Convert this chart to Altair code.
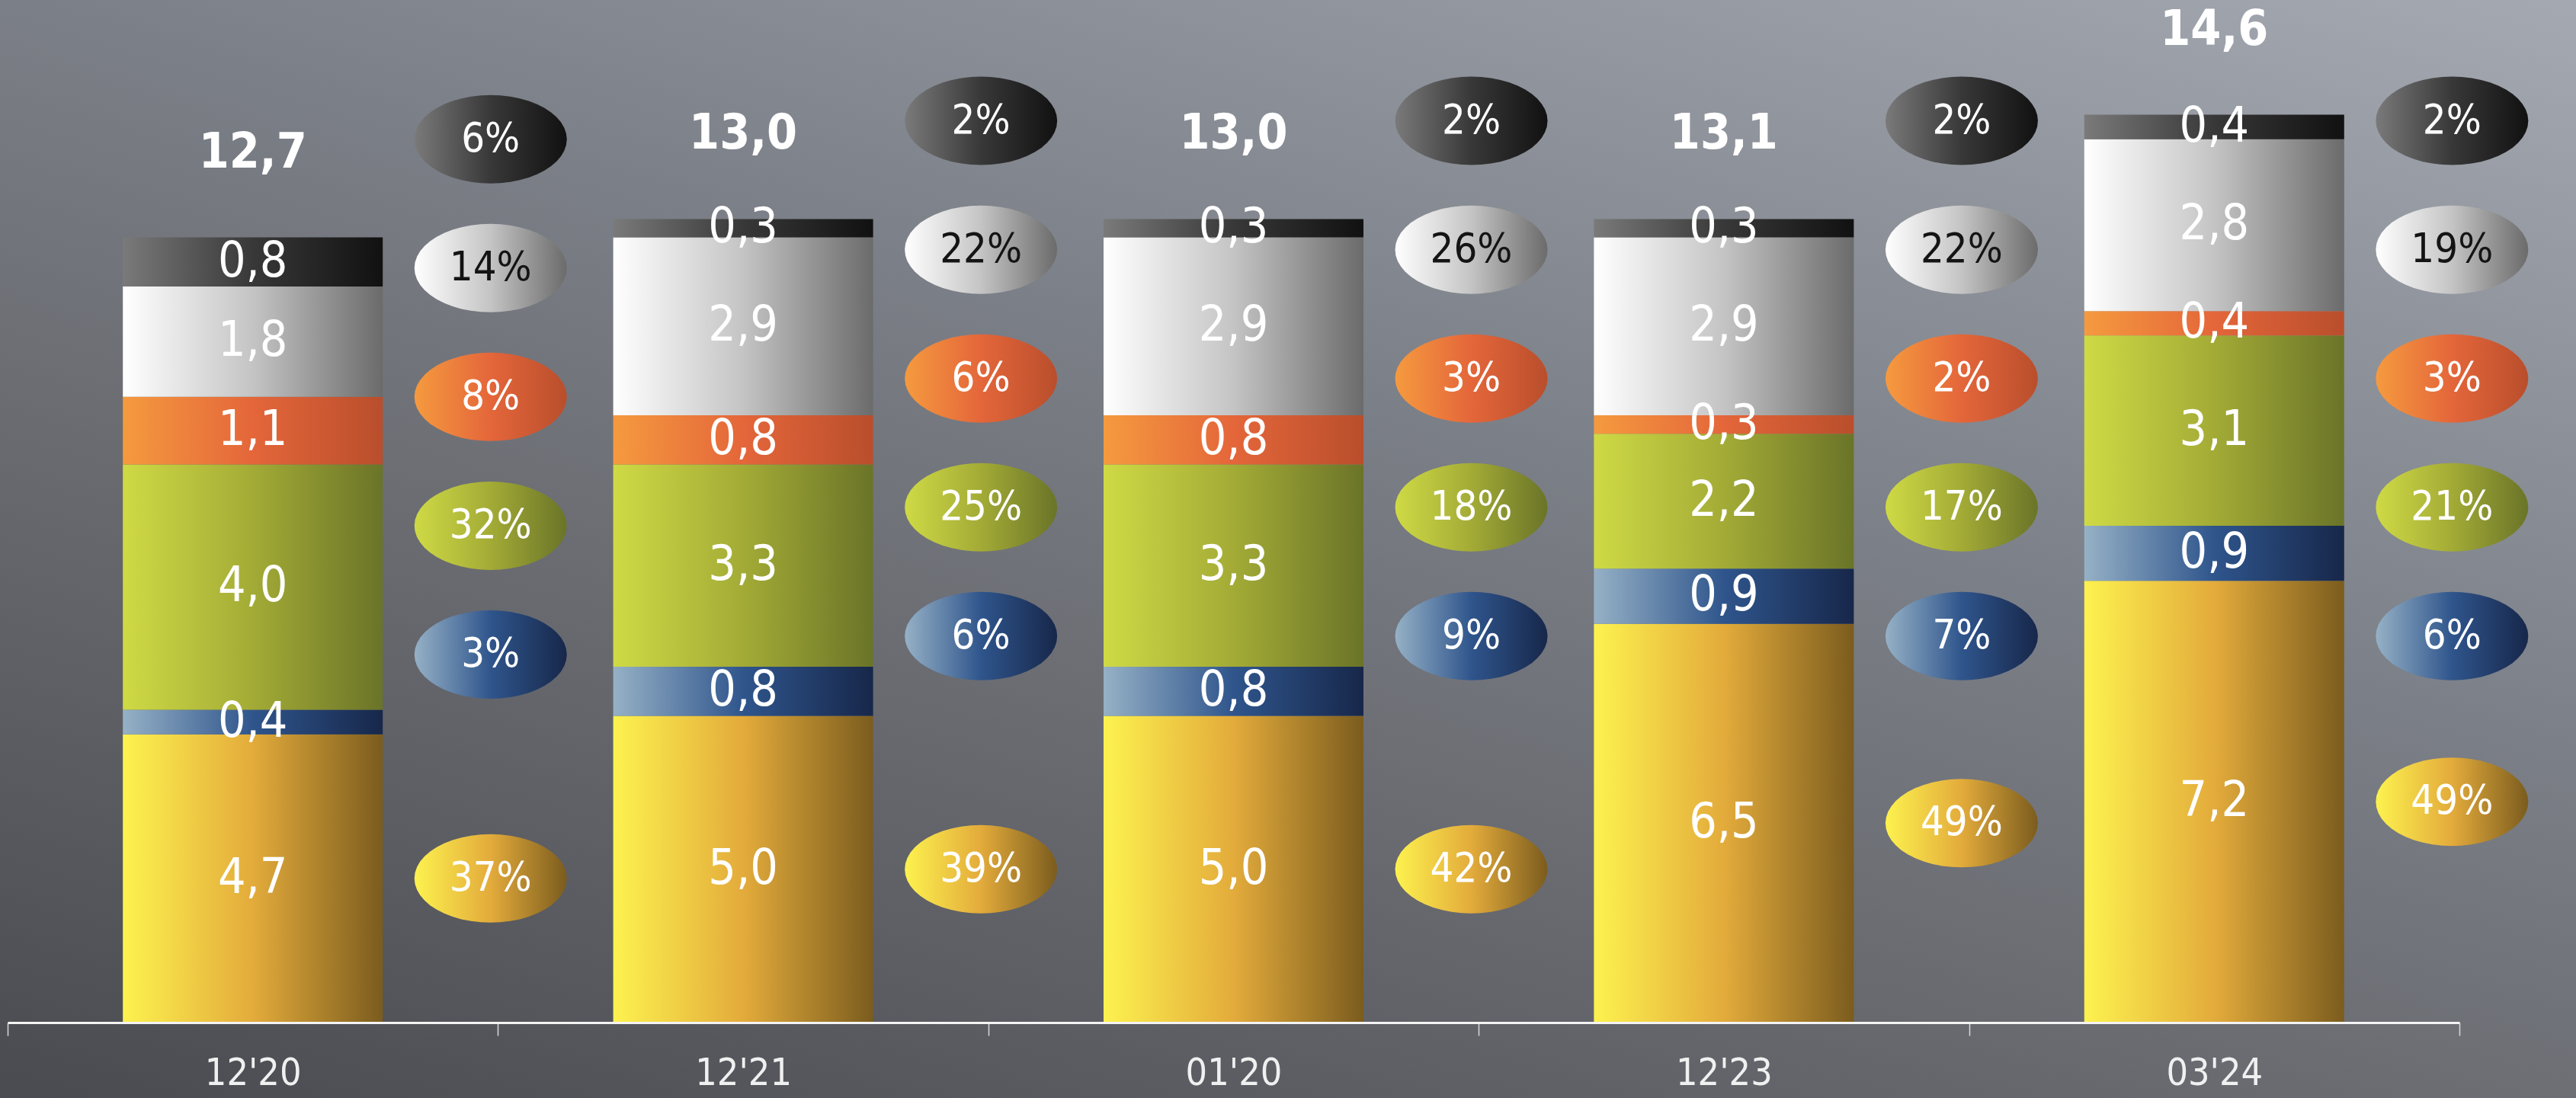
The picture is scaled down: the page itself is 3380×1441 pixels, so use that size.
import math
import altair as alt
import pandas as pd

# ---------------- data ----------------
categories = ["12'20", "12'21", "01'20", "12'23", "03'24"]

# segment values, bottom to top
seg_yellow = [4.7, 5.0, 5.0, 6.5, 7.2]
seg_blue = [0.4, 0.8, 0.8, 0.9, 0.9]
seg_green = [4.0, 3.3, 3.3, 2.2, 3.1]
seg_orange = [1.1, 0.8, 0.8, 0.3, 0.4]
seg_white = [1.8, 2.9, 2.9, 2.9, 2.8]
seg_black = [0.8, 0.3, 0.3, 0.3, 0.4]

# shares shown in the ellipses
pct_yellow = [37, 39, 42, 49, 49]
pct_blue = [3, 6, 9, 7, 6]
pct_green = [32, 25, 18, 17, 21]
pct_orange = [8, 6, 3, 2, 3]
pct_white = [14, 22, 26, 22, 19]
pct_black = [6, 2, 2, 2, 2]

totals = [12.7, 13.0, 13.0, 13.1, 14.6]

series_order = ["yellow", "blue", "green", "orange", "white", "black"]
seg_values = {"yellow": seg_yellow, "blue": seg_blue, "green": seg_green,
              "orange": seg_orange, "white": seg_white, "black": seg_black}
seg_pcts = {"yellow": pct_yellow, "blue": pct_blue, "green": pct_green,
            "orange": pct_orange, "white": pct_white, "black": pct_black}

# ---------------- styles ----------------
def grad(stops, x1=0, y1=0, x2=1, y2=0):
    return alt.LinearGradient(
        gradient="linear",
        stops=[alt.GradientStop(color=c, offset=o) for o, c in stops],
        x1=x1, x2=x2, y1=y1, y2=y2,
    )

gradients = {
    "yellow": grad([(0, "#fdf24f"), (0.5, "#e3ab3b"), (1, "#7b5c1e")]),
    "blue": grad([(0, "#96b1c6"), (0.5, "#2f558c"), (1, "#17274a")]),
    "green": grad([(0, "#cfda45"), (0.5, "#a3ab36"), (1, "#6a7428")]),
    "orange": grad([(0, "#f59a3f"), (0.5, "#e4663a"), (1, "#b94e2c")]),
    "white": grad([(0, "#ffffff"), (0.5, "#c4c4c4"), (1, "#6b6b6b")]),
    "black": grad([(0, "#7a7a7a"), (0.5, "#383838"), (1, "#111111")]),
}
pct_text_color = {"white": "#141414"}

FONT = "DejaVu Sans Condensed, Liberation Sans Narrow, sans-serif"
W, H = 3217, 1342
YMAX = 16.67

# ---------------- tables ----------------
rows = []
ell_rows = []
tot_rows = []
for i, cat in enumerate(categories):
    base = 0.0
    stack = {}
    for s in series_order:
        v = seg_values[s][i]
        stack[s] = (base, base + v)
        rows.append({"cat": cat, "series": s, "y0": base, "y1": base + v,
                     "mid": base + v / 2,
                     "label": f"{v:.1f}".replace(".", ",")})
        base += v
    tot_rows.append({"cat": cat, "top": base,
                     "label": f"{totals[i]:.1f}".replace(".", ",")})
    # ellipse layout: a column beside the bar, evenly spaced from the top
    top_y = min(base + 1.6, 14.7)
    for k, s in enumerate(["black", "white", "orange", "green", "blue"]):
        ell_rows.append({"cat": cat, "series": s, "ey": top_y - 2.1 * k,
                         "pct": f"{seg_pcts[s][i]}%"})
    y0, y1 = stack["yellow"]
    ell_rows.append({"cat": cat, "series": "yellow", "ey": (y0 + y1) / 2,
                     "pct": f"{seg_pcts['yellow'][i]}%"})

df = pd.DataFrame(rows)
ell = pd.DataFrame(ell_rows)
tot = pd.DataFrame(tot_rows)

# ---------------- encodings ----------------
xscale = alt.Scale(domain=categories, paddingInner=0, paddingOuter=0)
xaxis = alt.Axis(
    title=None, tickBand="extent", labelAngle=0, zindex=2,
    labelFont=FONT, labelFontSize=50, labelColor="#f0f0f0",
    labelPadding=24, tickSize=17, tickColor="#d5d8dc", tickWidth=1.5,
    domainColor="#f4f4f4", domainWidth=3, grid=False,
)
X = alt.X("cat:N", sort=categories, scale=xscale, axis=xaxis)
XE = alt.X("cat:N", sort=categories, scale=xscale, axis=xaxis, bandPosition=0.985)
yscale = alt.Scale(domain=[0, YMAX], nice=False, zero=True)

ell_path = []
for j in range(48):
    a = 2 * math.pi * j / 48
    ell_path.append(f"{'M' if j == 0 else 'L'}{math.cos(a):.4f},{0.58 * math.sin(a):.4f}")
ELLIPSE = " ".join(ell_path) + " Z"

bg = alt.Chart(pd.DataFrame({"a": [0]})).mark_rect(
    color=grad([(0, "#494b50"), (0.41, "#6d6f75"), (0.59, "#7b7f87"), (1, "#a5a9b2")],
               x1=0, y1=1, x2=0.79, y2=-0.15)
).encode(x=alt.value(-10), x2=alt.value(3370), y=alt.value(0), y2=alt.value(1441))

layers = [bg]
for s in series_order:
    layers.append(
        alt.Chart(df).transform_filter(alt.datum.series == s)
        .mark_bar(color=gradients[s], width={"band": 0.53})
        .encode(x=X, y=alt.Y("y0:Q", scale=yscale, axis=None), y2="y1:Q")
    )

layers.append(
    alt.Chart(df).mark_text(font=FONT, fontSize=64, color="white",
                            baseline="middle", align="center")
    .encode(x=X, y=alt.Y("mid:Q", scale=yscale, axis=None), text="label:N")
)
layers.append(
    alt.Chart(tot).mark_text(font=FONT, fontSize=64, fontWeight="bold",
                             color="white", baseline="middle", align="center", dy=-111)
    .encode(x=X, y=alt.Y("top:Q", scale=yscale, axis=None), text="label:N")
)

for s in series_order:
    layers.append(
        alt.Chart(ell).transform_filter(alt.datum.series == s)
        .mark_point(shape=ELLIPSE, size=40000, filled=True, opacity=1,
                    color=gradients[s], strokeWidth=0)
        .encode(x=XE, y=alt.Y("ey:Q", scale=yscale, axis=None))
    )
for s in series_order:
    layers.append(
        alt.Chart(ell).transform_filter(alt.datum.series == s)
        .mark_text(font=FONT, fontSize=54, color=pct_text_color.get(s, "white"),
                   baseline="middle", align="center")
        .encode(x=XE, y=alt.Y("ey:Q", scale=yscale, axis=None), text="pct:N")
    )

chart = alt.layer(*layers).properties(
    width=W, height=H,
    padding={"left": 10, "top": 0, "right": 153, "bottom": 99},
    autosize=alt.AutoSizeParams(type="none"),
    background="#6f7178",
).configure_view(stroke=None)

chart.save("out.html", embed_options={"renderer": "svg", "actions": False})
